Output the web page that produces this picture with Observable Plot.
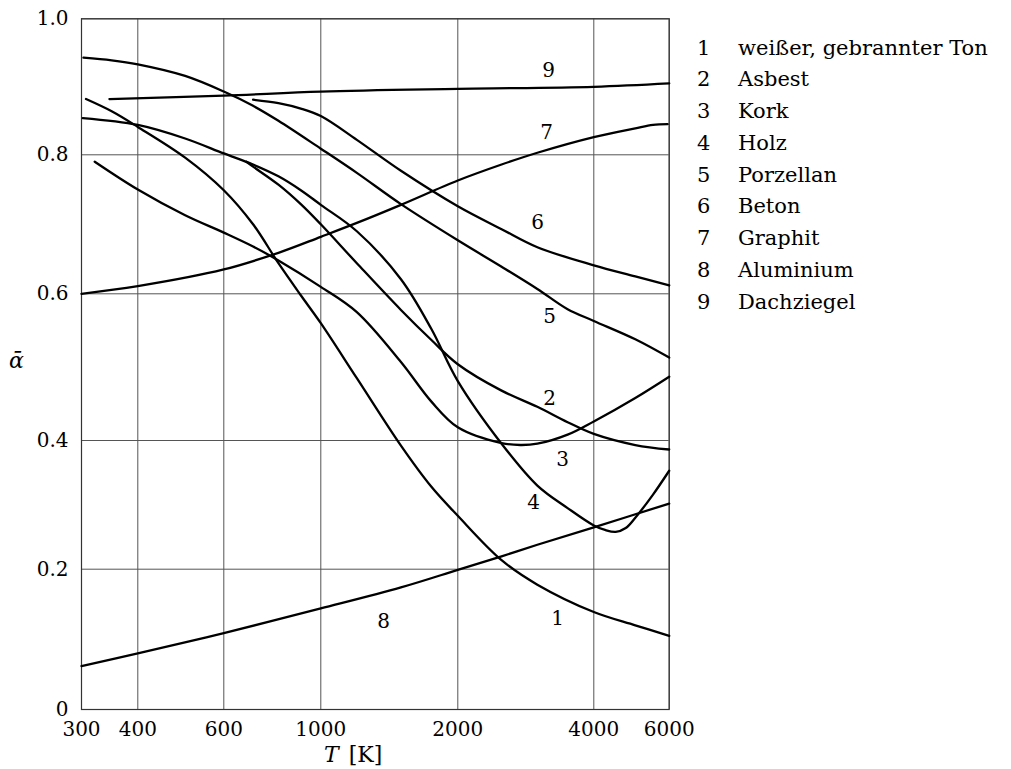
<!DOCTYPE html>
<html><head><meta charset="utf-8">
<script src="https://cdn.jsdelivr.net/npm/d3@7"></script>
<script src="https://cdn.jsdelivr.net/npm/@observablehq/plot@0.6"></script>
<style>
html,body{margin:0;padding:0;background:#fff;overflow:hidden}
#wrap{position:relative;width:1011px;height:769px;font-family:"DejaVu Serif",serif;color:#000}
.lbl{position:absolute;font-size:22px;line-height:1;white-space:nowrap}
#legend{position:absolute;left:697px;top:32.5px;font-size:21px}
#legend div{height:31.8px;line-height:31.8px;white-space:nowrap}
#legend span.n{display:inline-block;width:41px}
</style></head><body><div id="wrap"></div>
<script>
// Axis ticks
const xTicks = [300, 400, 600, 1000, 2000, 4000, 6000];
const yTicks = [0, 0.2, 0.4, 0.6, 0.8, 1.0];
const yTickLabels = ["0", "0.2", "0.4", "0.6", "0.8", "1.0"];

// Series ids and names
const ids = ["1", "2", "3", "4", "5", "6", "7", "8", "9"];
const names = ["weißer, gebrannter Ton", "Asbest", "Kork", "Holz", "Porzellan", "Beton", "Graphit", "Aluminium", "Dachziegel"];

// 1 weißer, gebrannter Ton
const T1 = [307, 350, 400, 500, 600, 700, 800, 900, 1000, 1200, 1500, 1750, 2000, 2500, 3000, 4000, 5000, 6000];
const a1 = [0.882, 0.864, 0.841, 0.796, 0.749, 0.700, 0.644, 0.598, 0.560, 0.485, 0.392, 0.328, 0.283, 0.214, 0.178, 0.139, 0.120, 0.105];
// 2 Asbest
const T2 = [676, 700, 800, 900, 1000, 1200, 1500, 1750, 2000, 2500, 3000, 3500, 4000, 5000, 6000];
const a2 = [0.790, 0.783, 0.757, 0.729, 0.700, 0.644, 0.578, 0.537, 0.504, 0.468, 0.446, 0.425, 0.409, 0.393, 0.386];
// 3 Kork
const T3 = [321, 400, 500, 600, 700, 800, 1000, 1200, 1500, 1750, 2000, 2500, 2750, 3000, 3500, 4000, 5000, 6000];
const a3 = [0.790, 0.750, 0.713, 0.688, 0.668, 0.648, 0.610, 0.575, 0.507, 0.453, 0.418, 0.396, 0.393, 0.395, 0.408, 0.426, 0.458, 0.487];
// 4 Holz
const T4 = [302, 400, 500, 600, 700, 800, 900, 1000, 1200, 1500, 1750, 2000, 2500, 3000, 3500, 4000, 4250, 4500, 4750, 5000, 5500, 6000];
const a4 = [0.854, 0.844, 0.824, 0.802, 0.786, 0.769, 0.749, 0.728, 0.690, 0.621, 0.552, 0.481, 0.395, 0.330, 0.295, 0.268, 0.261, 0.258, 0.264, 0.280, 0.316, 0.353];
// 5 Porzellan
const T5 = [303, 350, 400, 500, 600, 700, 800, 1000, 1200, 1500, 2000, 2500, 3000, 3500, 4000, 5000, 6000];
const a5 = [0.943, 0.939, 0.933, 0.916, 0.893, 0.872, 0.850, 0.809, 0.774, 0.729, 0.677, 0.639, 0.607, 0.579, 0.563, 0.538, 0.513];
// 6 Beton
const T6 = [700, 800, 900, 1000, 1200, 1500, 2000, 2500, 3000, 4000, 5000, 6000];
const a6 = [0.881, 0.876, 0.868, 0.857, 0.822, 0.777, 0.726, 0.693, 0.667, 0.641, 0.625, 0.612];
// 7 Graphit
const T7 = [300, 400, 600, 800, 1000, 1200, 1500, 2000, 2500, 3000, 4000, 5000, 5500, 5950];
const a7 = [0.600, 0.611, 0.635, 0.659, 0.682, 0.702, 0.728, 0.763, 0.786, 0.803, 0.826, 0.839, 0.844, 0.845];
// 8 Aluminium
const T8 = [300, 400, 600, 1000, 1500, 2000, 2500, 3000, 4000, 6000];
const a8 = [0.062, 0.080, 0.109, 0.144, 0.174, 0.199, 0.220, 0.238, 0.265, 0.302];
// 9 Dachziegel
const T9 = [346, 600, 1000, 2000, 4000, 6000];
const a9 = [0.882, 0.887, 0.893, 0.897, 0.900, 0.905];

// Curve number labels inside the plot
const labelIds = ["9", "7", "6", "5", "2", "3", "4", "1", "8"];
const labelT = [3176, 3143, 3002, 3192, 3192, 3410, 2942, 3325, 1374];
const labelA = [0.924, 0.833, 0.703, 0.569, 0.457, 0.370, 0.304, 0.130, 0.125];

const Ts = [T1, T2, T3, T4, T5, T6, T7, T8, T9];
const As = [a1, a2, a3, a4, a5, a6, a7, a8, a9];
const rows = [];
ids.forEach((id, k) => Ts[k].forEach((t, i) => rows.push({id, T: t, a: As[k][i]})));
const labelRows = labelIds.map((id, i) => ({id, T: labelT[i], a: labelA[i]}));

const chart = Plot.plot({
  width: 1011,
  height: 769,
  marginLeft: 81,
  marginRight: 342.3,
  marginTop: 18.3,
  marginBottom: 60,
  style: {fontFamily: '"DejaVu Serif", serif', fontSize: "20px", color: "#000", background: "transparent"},
  x: {
    type: "log",
    domain: xTicks,
    range: [81, 137.3, 223.3, 320.3, 457.3, 593.3, 668.7],
    ticks: xTicks,
    tickFormat: d => String(d),
    tickSize: 0,
    tickPadding: 12,
    label: null
  },
  y: {
    type: "linear",
    domain: yTicks,
    range: [709, 568.7, 440, 293.3, 154.3, 18.3],
    ticks: yTicks,
    tickFormat: d => yTickLabels[yTicks.indexOf(d)],
    tickSize: 0,
    tickPadding: 13,
    label: null
  },
  marks: [
    Plot.ruleX(xTicks, {stroke: "#555", strokeWidth: 1}),
    Plot.ruleY(yTicks, {stroke: "#555", strokeWidth: 1}),
    Plot.frame({stroke: "#333", strokeWidth: 1.2}),
    Plot.line(rows, {x: "T", y: "a", z: "id", stroke: "#000", strokeWidth: 2.3, curve: "catmull-rom"}),
    Plot.text(labelRows, {x: "T", y: "a", text: "id", fontSize: 20, fill: "#000"})
  ]
});

const wrap = document.getElementById("wrap");
wrap.appendChild(chart);

const yl = document.createElement("div");
yl.className = "lbl";
yl.style.left = "9px";
yl.style.top = "350px";
yl.style.fontStyle = "italic";
yl.textContent = "ᾱ";
wrap.appendChild(yl);

const xl = document.createElement("div");
xl.className = "lbl";
xl.style.left = "324px";
xl.style.top = "744px";
xl.style.wordSpacing = "3px";
xl.innerHTML = "<i>T</i> [K]";
wrap.appendChild(xl);

const lg = document.createElement("div");
lg.id = "legend";
ids.forEach((id, i) => {
  const r = document.createElement("div");
  const n = document.createElement("span");
  n.className = "n";
  n.textContent = id;
  r.appendChild(n);
  r.appendChild(document.createTextNode(names[i]));
  lg.appendChild(r);
});
wrap.appendChild(lg);
</script></body></html>
